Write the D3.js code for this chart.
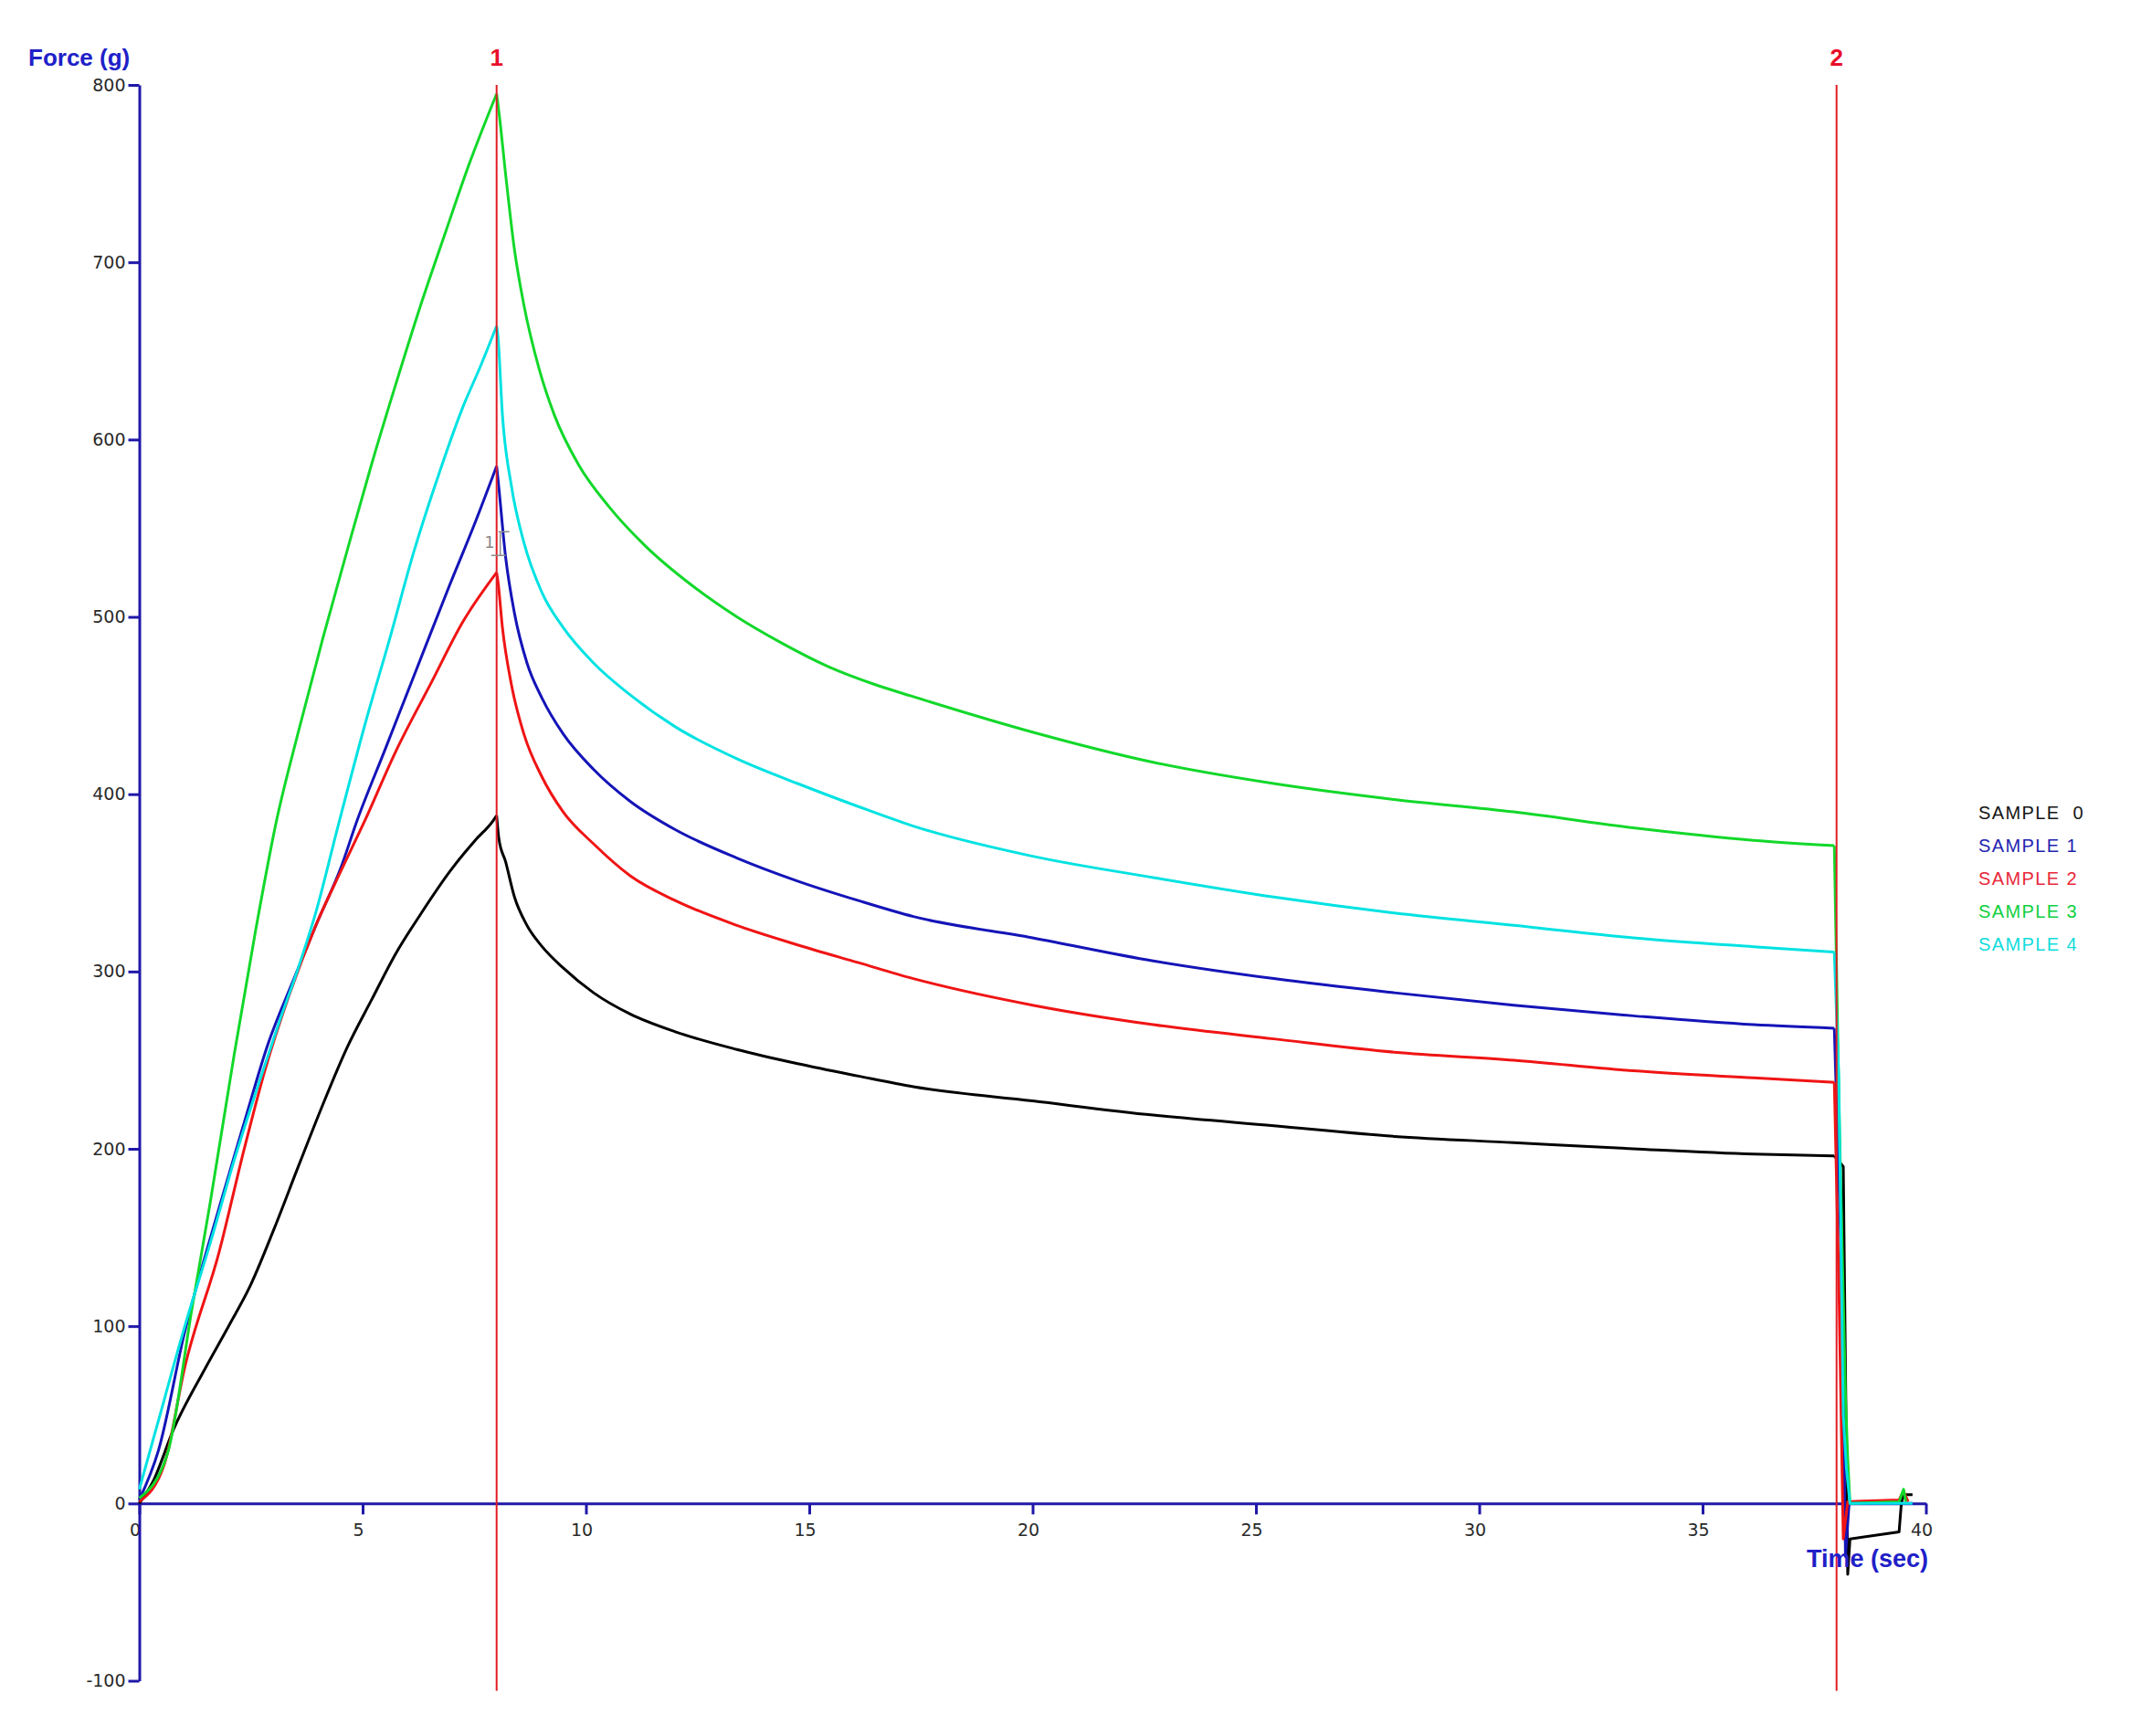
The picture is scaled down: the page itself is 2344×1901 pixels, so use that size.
<!DOCTYPE html>
<html>
<head>
<meta charset="utf-8">
<script src="https://cdn.jsdelivr.net/npm/d3@7"></script>
<style>
  body { margin: 0; background: #fff; }
  svg { display: block; }
</style>
</head>
<body>
<div id="chart"></div>
<script>
// Force vs time readings, one array of [sec, g] pairs per sample
const sample0 = [[0,0],[0.3,12],[0.77,42],[1.45,75],[2.0,100],[2.47,122],[3.02,155],[3.56,190],[4.11,225],[4.65,257],[5.2,284],[5.74,310],[6.29,332],[6.97,357],[7.52,374],[7.92,385],[8.0,388],
  [8.05,375],[8.2,362],[8.4,342],[8.68,326],[9.02,314],[9.49,302],[10.17,288],[10.99,276],[12.0,266],[13.38,256],[14.74,248],[16.1,241],[17.33,235],[20,227],[22.7,219],[25.4,213],[28.1,207],[30.77,203.5],[33.45,200],[36.14,197],[37.95,196],
  [38.15,190],[38.25,-40],[38.3,-20],[39.4,-16],[39.45,0],[39.5,5],[39.7,5]];
const sample1 = [[0,2],[0.43,30],[1.02,97],[1.79,167],[2.34,214],[2.88,259],[3.43,294],[3.97,327],[4.52,359],[4.86,384],[5.5,425],[6.2,470],[6.95,518],[7.5,552],[8.0,585],
  [8.03,578],[8.2,534],[8.4,502],[8.68,474],[9.02,454],[9.49,434],[10.17,414],[10.99,396],[12.0,380],[13.38,364],[14.74,351],[16.1,340],[17.33,331],[20,319],[22.7,306],[25.4,296],[28.1,288],[30.77,281],[33.45,275],[36.14,270],[37.95,268],
  [38.1,140],[38.2,-30],[38.28,0],[39.7,0]];
const sample2 = [[0,1],[0.56,22],[1.02,77],[1.79,142],[2.34,199],[2.81,244],[3.36,287],[3.97,327],[4.52,357],[5.03,384],[5.74,424],[6.56,464],[7.24,497],[8.0,525],
  [8.03,520],[8.13,494],[8.33,462],[8.61,434],[9.01,410],[9.49,390],[10.17,372],[10.99,354],[12.0,340],[13.38,326],[14.74,315],[16.1,305],[17.33,296],[20,281],[22.7,270],[25.4,262],[28.1,254.5],[30.77,250],[33.45,244],[36.14,240],[37.95,237.5],
  [38.05,125],[38.15,-20],[38.25,1],[39.4,2],[39.5,7],[39.6,1]];
const sample3 = [[0,3],[0.63,28],[1.18,110],[1.59,170],[2.13,254],[2.61,324],[3.08,386],[3.56,435],[4.11,488],[4.65,537],[5.2,586],[5.74,631],[6.29,675],[6.83,715],[7.38,755],[8.0,795],
  [8.06,783],[8.2,750],[8.4,707],[8.61,676],[8.95,640],[9.29,614],[9.83,586],[10.52,562],[11.33,540],[12.36,518],[13.38,500],[14.4,485],[15.42,472],[16.45,462],[17.33,455],[20,435],[22.7,418],[25.4,406],[28.1,397],[30.77,390],[33.45,381],[36.14,374],[37.95,371],
  [38.05,230],[38.2,60],[38.25,25],[38.3,0],[39.4,1],[39.5,8],[39.55,1]];
const sample4 = [[0,8],[0.41,45],[1.02,100],[1.59,147],[2.13,194],[2.61,232],[3.14,272],[3.56,302],[3.96,334],[4.45,382],[5.06,440],[5.61,488],[6.15,537],[6.7,580],[7.24,618],[7.65,642],[8.0,664],
  [8.03,658],[8.13,614],[8.33,574],[8.61,542],[9.01,514],[9.49,494],[10.17,474],[10.99,456],[12.0,438],[13.38,420],[14.74,406],[16.1,393],[17.33,382],[20,365],[22.7,353],[25.4,342],[28.1,333],[30.77,326],[33.45,319],[36.14,314],[37.95,311],
  [38.05,240],[38.15,50],[38.22,20],[38.3,0],[39.7,0]];

const sampleNames = ["SAMPLE  0", "SAMPLE 1", "SAMPLE 2", "SAMPLE 3", "SAMPLE 4"];
const sampleColors = ["#000000", "#1414b8", "#f01414", "#12d82a", "#00e2e2"];
const legendColors = ["#151515", "#2424b0", "#e8283a", "#10d040", "#10dcdc"];
const xTicks = [0, 5, 10, 15, 20, 25, 30, 35, 40];
const yTicks = [-100, 0, 100, 200, 300, 400, 500, 600, 700, 800];
const markerTimes = [8, 38];
const markerLabels = ["1", "2"];

const W = 2344, H = 1901;
const axisColor = "#2018a8";

const svg = d3.select("#chart")
  .append("svg")
    .attr("width", W)
    .attr("height", H);

const x = d3.scaleLinear().domain([0, 40]).range([152.5, 2108.5]);
const y = d3.scaleLinear().domain([-100, 800]).range([1840.5, 93]);

// X axis at force = 0
const xAxis = svg.append("g")
  .attr("transform", `translate(0, ${y(0)})`)
  .call(d3.axisBottom(x).tickValues(xTicks).tickSize(12).tickSizeOuter(0).tickPadding(10).tickFormat(d => String(d)));
xAxis.selectAll("text").attr("dx", -5);

// Y axis (plain hyphen for negatives, like the original)
svg.append("g")
  .attr("transform", `translate(${x(0)}, 0)`)
  .call(d3.axisLeft(y).tickValues(yTicks).tickSize(12).tickSizeOuter(0).tickPadding(3).tickFormat(d => String(d)));

svg.selectAll(".tick text")
  .attr("font-family", "'DejaVu Sans', sans-serif")
  .attr("font-size", 19)
  .attr("fill", "#2a2a2a");
svg.selectAll(".domain, .tick line")
  .attr("stroke", axisColor)
  .attr("stroke-width", 3);

// Curves: loading, relaxation and release drawn as pieces so the peak stays sharp
const smooth = d3.line()
  .x(d => x(d[0]))
  .y(d => y(d[1]))
  .curve(d3.curveMonotoneX);
const straight = d3.line()
  .x(d => x(d[0]))
  .y(d => y(d[1]));

const series = [sample0, sample1, sample2, sample3, sample4];
series.forEach((s, i) => {
  const rise = s.filter(d => d[0] <= 8);
  const hold = s.filter(d => d[0] >= 8 && d[0] <= 37.95);
  const drop = s.filter(d => d[0] >= 37.95);
  const g = svg.append("g")
    .attr("fill", "none")
    .attr("stroke", sampleColors[i])
    .attr("stroke-width", 3)
    .attr("stroke-linejoin", "round");
  g.append("path").attr("d", smooth(rise));
  g.append("path").attr("d", smooth(hold));
  g.append("path").attr("d", straight(drop));
});

// Marker lines 1 and 2
svg.selectAll(".marker")
  .data(markerTimes)
  .join("line")
  .attr("class", "marker")
  .attr("x1", d => x(d)).attr("x2", d => x(d))
  .attr("y1", y(800)).attr("y2", y(-100) + 11)
  .attr("stroke", "#e01c24")
  .attr("stroke-width", 2);

svg.selectAll(".marker-label")
  .data(markerTimes)
  .join("text")
  .attr("class", "marker-label")
  .attr("x", d => x(d))
  .attr("y", 72)
  .attr("text-anchor", "middle")
  .attr("font-family", "'Liberation Sans', Arial, sans-serif")
  .attr("font-weight", "bold")
  .attr("font-size", 26)
  .attr("fill", "#e8102a")
  .text((d, i) => markerLabels[i]);

// small gray cursor tag near marker 1
svg.append("path")
  .attr("d", `M${x(8) + 2},${y(548)} h12 M${x(8) + 4},${y(548)} v26 M${x(8) - 6},${y(548) + 26} h16`)
  .attr("stroke", "#8a8a8a")
  .attr("fill", "none")
  .attr("stroke-width", 1.5);
svg.append("text")
  .attr("x", x(8) - 2)
  .attr("y", y(548) + 18)
  .attr("text-anchor", "end")
  .attr("font-family", "'DejaVu Sans', sans-serif")
  .attr("font-size", 18)
  .attr("fill", "#8a8a8a")
  .text("1");

// Axis titles
svg.append("text")
  .attr("x", 31)
  .attr("y", 72)
  .attr("font-family", "'Liberation Sans', Arial, sans-serif")
  .attr("font-weight", "bold")
  .attr("font-size", 26)
  .attr("fill", "#2020c8")
  .text("Force (g)");

svg.append("text")
  .attr("x", 2111)
  .attr("y", 1716)
  .attr("text-anchor", "end")
  .attr("font-family", "'Liberation Sans', Arial, sans-serif")
  .attr("font-weight", "bold")
  .attr("font-size", 27)
  .attr("fill", "#2020c8")
  .text("Time (sec)");

// Legend
svg.selectAll(".legend")
  .data(sampleNames)
  .join("text")
  .attr("class", "legend")
  .attr("x", 2166)
  .attr("y", (d, i) => 897 + i * 36)
  .attr("font-family", "'Liberation Sans', Arial, sans-serif")
  .attr("font-size", 20)
  .attr("letter-spacing", 1.4)
  .attr("fill", (d, i) => legendColors[i])
  .style("white-space", "pre")
  .text(d => d);
</script>
</body>
</html>
